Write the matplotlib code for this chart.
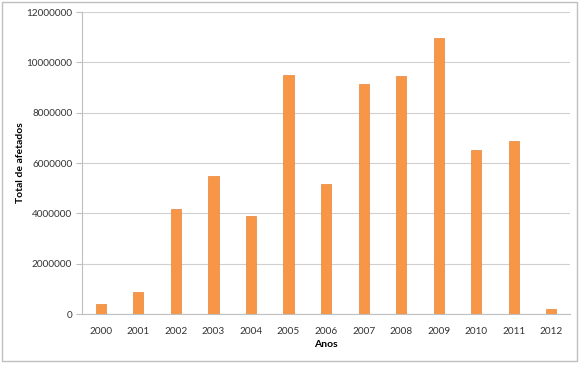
import numpy as np
import matplotlib.pyplot as plt
from matplotlib.patches import Rectangle

plt.rcParams['font.family'] = ['Lato', 'DejaVu Sans']

# dados
anos = ['2000', '2001', '2002', '2003', '2004', '2005', '2006',
        '2007', '2008', '2009', '2010', '2011', '2012']
afetados = [400000, 890000, 4170000, 5480000, 3890000, 9500000, 5160000,
            9140000, 9460000, 10980000, 6520000, 6860000, 200000]
yticks = [0, 2000000, 4000000, 6000000, 8000000, 10000000, 12000000]

fig = plt.figure(figsize=(5.8, 3.65), dpi=100)
ax = fig.add_axes([0.1414, 0.1397, 0.8416, 0.8274])

x = np.arange(len(anos))
ax.bar(x, afetados, width=0.27, color='#F79646', edgecolor='#E8843A',
       linewidth=0.5, zorder=3)

ax.set_xlim(-0.5, len(anos) - 0.5)
ax.set_ylim(0, 12000000)
ax.set_yticks(yticks)
ax.set_yticklabels([str(v) for v in yticks])
ax.set_xticks(x)
ax.set_xticklabels(anos)

ax.grid(axis='y', color='#D0D0D0', linewidth=0.8, zorder=0)
for s in ['top', 'right']:
    ax.spines[s].set_visible(False)
ax.spines['left'].set_color('#BFBFBF')
ax.spines['bottom'].set_color('#BFBFBF')
ax.tick_params(axis='y', length=4, color='#BFBFBF', labelsize=7.2,
               labelcolor='#333333', pad=3)
ax.tick_params(axis='x', length=0, labelsize=7.2, labelcolor='#333333', pad=9)

ax.set_xlabel('Anos', fontsize=7.5, fontweight='bold', labelpad=3)
ax.set_ylabel('Total de afetados', fontsize=7.5, fontweight='bold', labelpad=1)

# moldura externa
fig.patches.append(Rectangle((0.004, 0.011), 0.991, 0.983, transform=fig.transFigure,
                             fill=False, edgecolor='#BFBFBF', linewidth=1))

fig.savefig('out.png', dpi=100)
